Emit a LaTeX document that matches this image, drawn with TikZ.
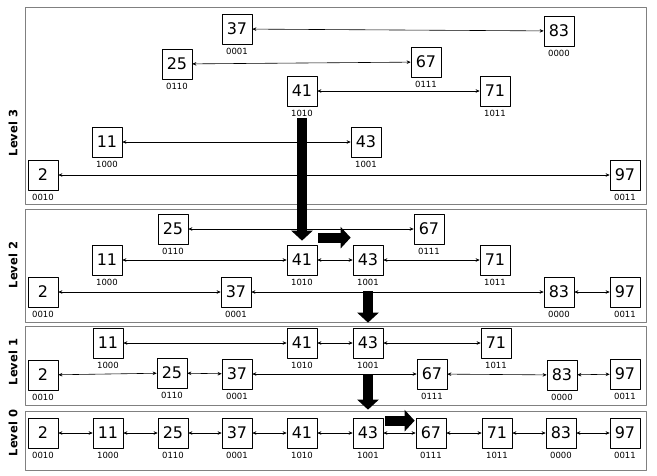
\documentclass[tikz,border=0pt]{standalone}
\usepackage{fontspec}
\setmainfont{DejaVu Sans}
\usetikzlibrary{arrows.meta,positioning}

\begin{document}
\begin{tikzpicture}[
			x=1pt,
			y=-1pt,
			line cap=round,
			line join=round,
			keybox/.style={draw,line width=0.7pt,minimum width=30pt,minimum height=30pt,inner sep=0pt,font=\fontsize{16}{16}\selectfont},
			keycode/.style={inner sep=0.5pt,font=\fontsize{8.5}{8.5}\selectfont},
			levelframe/.style={draw=black!50,line width=1pt},
			levelname/.style={rotate=90,font=\fontsize{11.5}{11.5}\selectfont\bfseries},
			link/.style={{Stealth[length=4pt,width=3.6pt]}-{Stealth[length=4pt,width=3.6pt]},line width=0.6pt},
			jump/.style={line width=10pt,line cap=butt,-{Triangle[length=10pt,width=21pt]}}
			]
			
			\useasboundingbox (0,0) rectangle (657,475);
			
			\newcommand{\KeyNode}[5]{%
				\node[keybox] (n#1) at (#2,#3) {#4};
				\node[keycode,below=3pt of n#1] (c#1) {#5};
			}
			
			% Level 3
			\draw[levelframe] (25,7) rectangle (646,204);
			\node[levelname] (l3) at (13,133) {Level 3};
			\KeyNode{3-37}{237}{29}{37}{0001}
			\KeyNode{3-83}{559}{31}{83}{0000}
			\KeyNode{3-25}{177}{64}{25}{0110}
			\KeyNode{3-67}{426}{62}{67}{0111}
			\KeyNode{3-41}{302}{91}{41}{1010}
			\KeyNode{3-71}{495}{91}{71}{1011}
			\KeyNode{3-11}{107}{142}{11}{1000}
			\KeyNode{3-43}{366}{142}{43}{1001}
			\KeyNode{3-2}{43}{175}{2}{0010}
			\KeyNode{3-97}{625}{175}{97}{0011}
			\draw[link] (n3-37) -- (n3-83);
			\draw[link] (n3-25) -- (n3-67);
			\draw[link] (n3-41) -- (n3-71);
			\draw[link] (n3-11) -- (n3-43);
			\draw[link] (n3-2) -- (n3-97);
			
			% Level 2
			\draw[levelframe] (25,209) rectangle (646,322);
			\node[levelname] (l2) at (13,265) {Level 2};
			\KeyNode{2-25}{173}{229}{25}{0110}
			\KeyNode{2-67}{429}{229}{67}{0111}
			\KeyNode{2-11}{107}{260}{11}{1000}
			\KeyNode{2-41}{302}{260}{41}{1010}
			\KeyNode{2-43}{368}{260}{43}{1001}
			\KeyNode{2-71}{495}{260}{71}{1011}
			\KeyNode{2-2}{43}{292}{2}{0010}
			\KeyNode{2-37}{236}{292}{37}{0001}
			\KeyNode{2-83}{559}{292}{83}{0000}
			\KeyNode{2-97}{625}{292}{97}{0011}
			\draw[link] (n2-25) -- (n2-67);
			\draw[link] (n2-11) -- (n2-41);
			\draw[link] (n2-41) -- (n2-43);
			\draw[link] (n2-43) -- (n2-71);
			\draw[link] (n2-2) -- (n2-37);
			\draw[link] (n2-37) -- (n2-83);
			\draw[link] (n2-83) -- (n2-97);
			
			% Level 1
			\draw[levelframe] (25,326) rectangle (646,405);
			\node[levelname] (l1) at (13,362) {Level 1};
			\KeyNode{1-11}{108}{343}{11}{1000}
			\KeyNode{1-41}{302}{343}{41}{1010}
			\KeyNode{1-43}{368}{343}{43}{1001}
			\KeyNode{1-71}{496}{343}{71}{1011}
			\KeyNode{1-2}{43}{375}{2}{0010}
			\KeyNode{1-25}{172}{373}{25}{0110}
			\KeyNode{1-37}{237}{374}{37}{0001}
			\KeyNode{1-67}{432}{374}{67}{0111}
			\KeyNode{1-83}{562}{375}{83}{0000}
			\KeyNode{1-97}{625}{374}{97}{0011}
			\draw[link] (n1-11) -- (n1-41);
			\draw[link] (n1-41) -- (n1-43);
			\draw[link] (n1-43) -- (n1-71);
			\draw[link] (n1-2) -- (n1-25);
			\draw[link] (n1-25) -- (n1-37);
			\draw[link] (n1-37) -- (n1-67);
			\draw[link] (n1-67) -- (n1-83);
			\draw[link] (n1-83) -- (n1-97);
			
			% Level 0
			\draw[levelframe] (25,411) rectangle (646,470);
			\node[levelname] (l0) at (13,433) {Level 0};
			\KeyNode{0-2}{43}{433}{2}{0010}
			\KeyNode{0-11}{108}{433}{11}{1000}
			\KeyNode{0-25}{173}{433}{25}{0110}
			\KeyNode{0-37}{237}{433}{37}{0001}
			\KeyNode{0-41}{302}{433}{41}{1010}
			\KeyNode{0-43}{368}{433}{43}{1001}
			\KeyNode{0-67}{431}{433}{67}{0111}
			\KeyNode{0-71}{497}{433}{71}{1011}
			\KeyNode{0-83}{561}{433}{83}{0000}
			\KeyNode{0-97}{625}{433}{97}{0011}
			\draw[link] (n0-2) -- (n0-11);
			\draw[link] (n0-11) -- (n0-25);
			\draw[link] (n0-25) -- (n0-37);
			\draw[link] (n0-37) -- (n0-41);
			\draw[link] (n0-41) -- (n0-43);
			\draw[link] (n0-43) -- (n0-67);
			\draw[link] (n0-67) -- (n0-71);
			\draw[link] (n0-71) -- (n0-83);
			\draw[link] (n0-83) -- (n0-97);
			
			% search path for 67
			\draw[jump,shorten <=1pt,shorten >=4pt] (c3-41.south) -- (n2-41.north);
			\draw[jump,shorten <=1pt,shorten >=2pt] ([yshift=7pt]n2-41.north east) -- ([yshift=7pt]n2-43.north west);
			\draw[jump,shorten <=5pt,shorten >=5pt] (c2-43.south) -- (n1-43.north);
			\draw[jump,shorten <=6pt,shorten >=8pt] (c1-43.south) -- (n0-43.north);
			\draw[jump,shorten <=2pt,shorten >=1pt] ([yshift=-3pt]n0-43.north east) -- ([yshift=-3pt]n0-67.north west);
			
		\end{tikzpicture}
\end{document}
